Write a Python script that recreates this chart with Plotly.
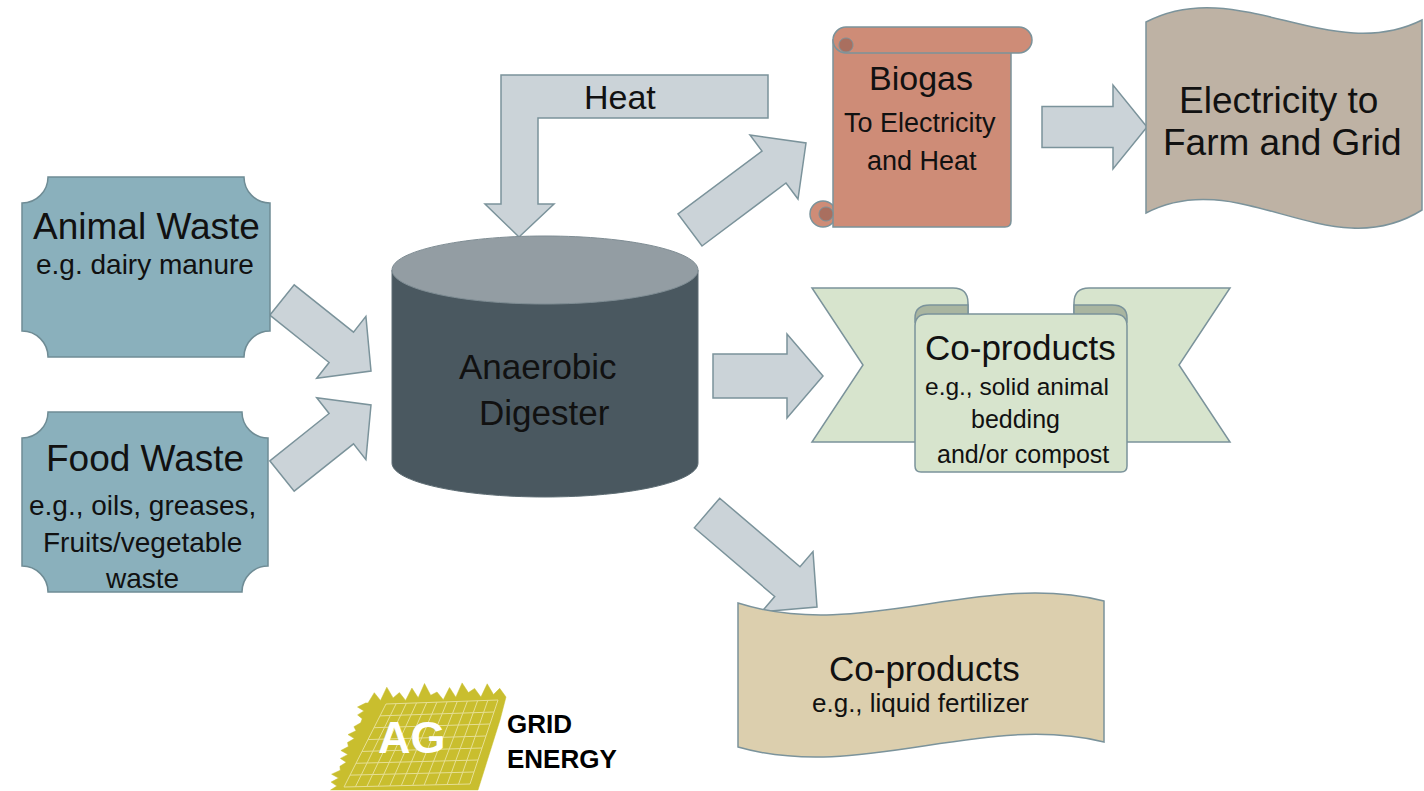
import math
import plotly.graph_objects as go

# ---------------- text content (data) ----------------
source_titles = ["Animal Waste", "Food Waste"]
source_details = [["e.g. dairy manure"],
                  ["e.g., oils, greases,", "Fruits/vegetable", "waste"]]
digester_lines = ["Anaerobic", "Digester"]
heat_label = "Heat"
biogas_lines = ["Biogas", "To Electricity", "and Heat"]
electricity_lines = ["Electricity to", "Farm and Grid"]
coproduct_solid_lines = ["Co-products", "e.g., solid animal", "bedding", "and/or compost"]
coproduct_liquid_lines = ["Co-products", "e.g., liquid fertilizer"]
logo_mark = "AG"
logo_words = ["GRID", "ENERGY"]

# ---------------- styles ----------------
FONT = "Liberation Sans, Arial, sans-serif"
TXT = "#111111"
EDGE = "#7B939B"
C_SOURCE = "#8AB0BC"
C_SOURCE_EDGE = "#6F8C95"
C_ARROW = "#CBD3D8"
C_CYL_BODY = "#4A5860"
C_CYL_TOP = "#939DA3"
C_BIOGAS = "#CE8C77"
C_BIOGAS_DARK = "#A96F5F"
C_ELEC = "#BEB2A4"
C_GREEN = "#D7E4CD"
C_GREEN_DARK = "#A9B5A0"
C_TAN = "#DCCFAE"
C_LOGO = "#C9BE2E"
C_LOGO_GRID = "#E6DF94"

W, H = 1424, 791
shapes = []
annotations = []


def add_path(path, fill, line=EDGE, lw=1.5):
    shapes.append(dict(type="path", path=path, fillcolor=fill,
                       line=dict(color=line, width=lw), xref="x", yref="y"))


def poly(pts):
    return "M " + " L ".join(f"{x:.1f},{y:.1f}" for x, y in pts) + " Z"


def arrow(x0, y0, x1, y1, sw, hw, hl):
    L = math.hypot(x1 - x0, y1 - y0)
    ux, uy = (x1 - x0) / L, (y1 - y0) / L
    px, py = -uy, ux
    bx, by = x1 - ux * hl, y1 - uy * hl
    pts = [(x0 + px * sw / 2, y0 + py * sw / 2),
           (bx + px * sw / 2, by + py * sw / 2),
           (bx + px * hw / 2, by + py * hw / 2),
           (x1, y1),
           (bx - px * hw / 2, by - py * hw / 2),
           (bx - px * sw / 2, by - py * sw / 2),
           (x0 - px * sw / 2, y0 - py * sw / 2)]
    return poly(pts)


def plaque(x0, y0, x1, y1, r):
    k = 0.552 * r
    return (f"M {x0+r},{y0} L {x1-r},{y0} "
            f"C {x1-r},{y0+k} {x1-k},{y0+r} {x1},{y0+r} "
            f"L {x1},{y1-r} C {x1-k},{y1-r} {x1-r},{y1-k} {x1-r},{y1} "
            f"L {x0+r},{y1} C {x0+r},{y1-k} {x0+k},{y1-r} {x0},{y1-r} "
            f"L {x0},{y0+r} C {x0+k},{y0+r} {x0+r},{y0+k} {x0+r},{y0} Z")


def ellipse(cx, cy, rx, ry):
    k = 0.552
    return (f"M {cx-rx},{cy} C {cx-rx},{cy-k*ry} {cx-k*rx},{cy-ry} {cx},{cy-ry} "
            f"C {cx+k*rx},{cy-ry} {cx+rx},{cy-k*ry} {cx+rx},{cy} "
            f"C {cx+rx},{cy+k*ry} {cx+k*rx},{cy+ry} {cx},{cy+ry} "
            f"C {cx-k*rx},{cy+ry} {cx-rx},{cy+k*ry} {cx-rx},{cy} Z")


def text(s, x, y, size, bold=False, color=TXT, xanchor="center"):
    annotations.append(dict(text=f"<b>{s}</b>" if bold else s, x=x, y=y,
                            xref="x", yref="y", showarrow=False,
                            xanchor=xanchor, yanchor="middle",
                            font=dict(family=FONT, size=size, color=color)))


# ---------------- arrows (drawn first, behind boxes) ----------------
add_path(arrow(282, 300, 371, 371, 39, 79, 38), C_ARROW)
add_path(arrow(282, 476, 371, 405, 39, 79, 38), C_ARROW)
add_path(arrow(713, 376, 823, 376, 44, 84, 36), C_ARROW)
add_path(arrow(1042, 127, 1147, 127, 41, 84, 34), C_ARROW)
add_path(arrow(690, 230, 806, 143, 40, 80, 40), C_ARROW)
add_path(arrow(707, 513, 817, 607, 39, 79, 39), C_ARROW)
# Heat bent arrow
add_path(poly([(768, 75), (501, 75), (501, 204), (485, 204), (519, 237),
               (554, 204), (538, 204), (538, 118), (768, 118)]), C_ARROW)

# ---------------- source plaques ----------------
add_path(plaque(22, 177, 270, 357, 26), C_SOURCE, C_SOURCE_EDGE)
add_path(plaque(22, 412, 268, 592, 26), C_SOURCE, C_SOURCE_EDGE)

# ---------------- digester cylinder ----------------
cx, rx, ry, ytop, ybot = 545, 153, 34, 270, 463
k = 0.552
body = (f"M {cx-rx},{ytop} L {cx-rx},{ybot} "
        f"C {cx-rx},{ybot+k*ry} {cx-k*rx},{ybot+ry} {cx},{ybot+ry} "
        f"C {cx+k*rx},{ybot+ry} {cx+rx},{ybot+k*ry} {cx+rx},{ybot} "
        f"L {cx+rx},{ytop} Z")
add_path(body, C_CYL_BODY, "#5E6D74", 1)
add_path(ellipse(cx, ytop, rx, ry), C_CYL_TOP, "#7F8D94", 1)

# ---------------- biogas scroll ----------------
add_path(ellipse(823, 214, 13, 13), C_BIOGAS)
add_path("M 833,40 L 1011,40 L 1011,221 Q 1011,227 1005,227 L 833,227 Z", C_BIOGAS)
add_path(ellipse(826, 214, 7, 7), C_BIOGAS_DARK, EDGE, 1)
add_path("M 846,27 L 1019,27 C 1026,27 1032,33 1032,40 C 1032,47 1026,53 1019,53 "
         "L 846,53 C 839,53 833,47 833,40 C 833,33 839,27 846,27 Z", C_BIOGAS)
add_path(ellipse(846, 45, 7, 7), C_BIOGAS_DARK, EDGE, 1)

# ---------------- electricity wave ----------------
add_path("M 1146,22 C 1238,-26 1330,66 1422,20 L 1422,210 "
         "C 1330,268 1240,164 1146,213 Z", C_ELEC)

# ---------------- solid co-products ribbon ----------------
add_path("M 812,288 L 953,288 Q 968,288 968,303 L 968,442 L 812,442 L 863,365 Z", C_GREEN)
add_path("M 1230,288 L 1089,288 Q 1074,288 1074,303 L 1074,442 L 1230,442 L 1179,365 Z",
         C_GREEN)
add_path("M 915,322 L 915,318 Q 915,305 930,305 L 968,305 L 968,322 Z", C_GREEN_DARK)
add_path("M 1127,322 L 1127,318 Q 1127,305 1112,305 L 1074,305 L 1074,322 Z", C_GREEN_DARK)
add_path("M 915,326 Q 915,314 928,314 L 1114,314 Q 1127,314 1127,326 L 1127,466 "
         "Q 1127,472 1121,472 L 921,472 Q 915,472 915,466 Z", C_GREEN)

# ---------------- liquid co-products wave ----------------
add_path("M 738,603 C 860,642 982,570 1104,601 L 1104,742 "
         "C 982,712 860,782 738,747 Z", C_TAN)

# ---------------- logo ----------------
spikes = [0, 10, 2, 15, 4, 9, 1, 13, 3, 17, 5, 8, 0, 12, 2, 16, 6, 10, 1, 14, 3, 9, 0]
top_a, top_b = (368, 703), (506, 697)
left_a, left_b = (368, 703), (336, 790)
pts = []
n = len(spikes)
for i in range(n):
    t = i / (n - 1)
    x = left_b[0] + (left_a[0] - left_b[0]) * t
    y = left_b[1] + (left_a[1] - left_b[1]) * t
    pts.append((x - spikes[(i + 5) % n] * 0.6, y))
for i in range(n):
    t = i / (n - 1)
    x = top_a[0] + (top_b[0] - top_a[0]) * t
    y = top_a[1] + (top_b[1] - top_a[1]) * t
    pts.append((x, y - spikes[i]))
pts += [(500, 720), (478, 790)]
add_path(poly(pts), C_LOGO, C_LOGO, 0.5)
TL, TR, BR, BL = (386, 704), (498, 700), (470, 784), (344, 787)


def lerp(a, b, t):
    return (a[0] + (b[0] - a[0]) * t, a[1] + (b[1] - a[1]) * t)


for i in range(12):
    t = i / 11
    p, q = lerp(TL, TR, t), lerp(BL, BR, t)
    shapes.append(dict(type="line", x0=p[0], y0=p[1], x1=q[0], y1=q[1],
                       line=dict(color=C_LOGO_GRID, width=1)))
for i in range(8):
    t = i / 7
    p, q = lerp(TL, BL, t), lerp(TR, BR, t)
    shapes.append(dict(type="line", x0=p[0], y0=p[1], x1=q[0], y1=q[1],
                       line=dict(color=C_LOGO_GRID, width=1)))

# ---------------- texts ----------------
text(source_titles[0], 146, 226, 37)
text(source_details[0][0], 145, 264, 28)
text(source_titles[1], 145, 458, 37)
for s, y in zip(source_details[1], [505, 542, 578]):
    text(s, 142, y, 28)
text(digester_lines[0], 538, 366, 35)
text(digester_lines[1], 544, 412, 35)
text(heat_label, 620, 97, 34)
text(biogas_lines[0], 921, 78, 34)
text(biogas_lines[1], 920, 123, 27)
text(biogas_lines[2], 922, 161, 27)
text(electricity_lines[0], 1278, 100, 37)
text(electricity_lines[1], 1282, 142, 37)
for s, x, y, sz in zip(coproduct_solid_lines, [1020, 1017, 1015, 1023],
                       [347, 386, 419, 454], [35, 24.5, 25, 25]):
    text(s, x, y, sz)
text(coproduct_liquid_lines[0], 924, 668, 35)
text(coproduct_liquid_lines[1], 920, 703, 26)
text(logo_mark, 412, 737, 45, bold=True, color="white")
text(logo_words[0], 505, 724, 26, bold=True, color="#000000", xanchor="left")
text(logo_words[1], 505, 759, 26, bold=True, color="#000000", xanchor="left")

fig = go.Figure()
fig.update_layout(
    width=W, height=H, margin=dict(l=0, r=0, t=0, b=0),
    paper_bgcolor="white", plot_bgcolor="white",
    xaxis=dict(range=[0, W], visible=False, fixedrange=True),
    yaxis=dict(range=[H, 0], visible=False, fixedrange=True),
    shapes=shapes, annotations=annotations, showlegend=False,
)
fig.write_html("out.html", config={"displayModeBar": False},
               post_script="document.body.style.margin='0';document.body.style.overflow='hidden';")
